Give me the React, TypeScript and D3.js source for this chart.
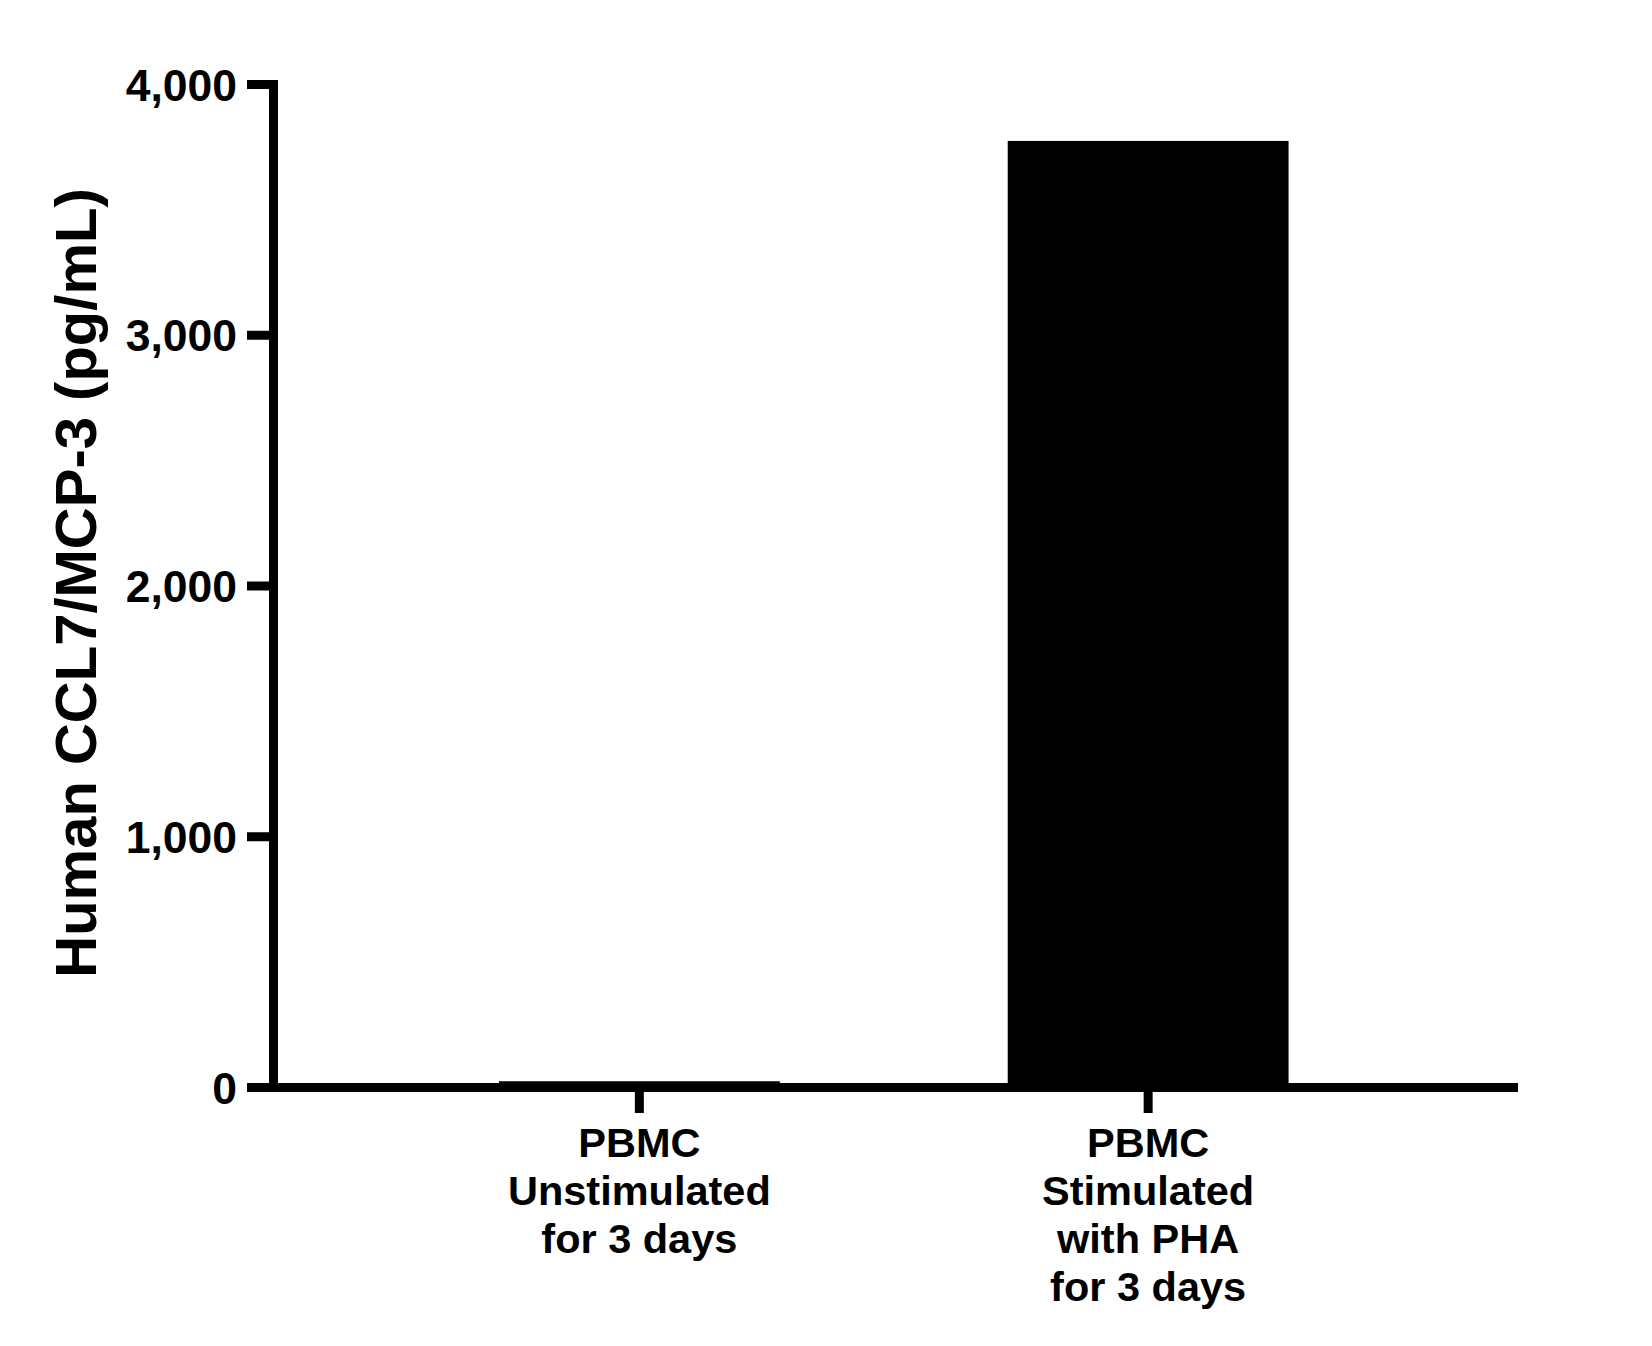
import React from "react";
import * as d3 from "d3";

const categories: string[][] = [
  ["PBMC", "Unstimulated", "for 3 days"],
  ["PBMC", "Stimulated", "with PHA", "for 3 days"],
];
const categoryKeys = ["unstim", "stim"];
const values = [25, 3775];
const yTicks = [0, 1000, 2000, 3000, 4000];
const yLabel = "Human CCL7/MCP-3 (pg/mL)";

export default function App() {
  const W = 1652;
  const H = 1346;
  const axisX = 273.5;
  const axisY = 1087.5;
  const lw = 9;
  const y = d3.scaleLinear().domain([0, 4000]).range([axisY, 84.5]);
  const x = d3
    .scaleBand<string>()
    .domain(categoryKeys)
    .range([271.5, 1516])
    .paddingInner(0.448)
    .paddingOuter(0.447);
  const fmt = d3.format(",");
  const font = "'Liberation Sans', Arial, sans-serif";

  return (
    <svg
      width={W}
      height={H}
      style={{ position: "absolute", left: 0, top: 0, background: "#fff" }}
      fontFamily={font}
      fontWeight="bold"
    >
      <rect x={0} y={0} width={W} height={H} fill="#fff" />
      {values.map((v, i) => (
        <rect
          key={i}
          x={x(categoryKeys[i])!}
          width={x.bandwidth()}
          y={y(v)}
          height={y(0) - y(v)}
          fill="#000"
        />
      ))}
      {/* y axis */}
      <line x1={axisX} x2={axisX} y1={y(4000) - lw / 2} y2={axisY + lw / 2} stroke="#000" strokeWidth={lw} />
      {yTicks.map((t) => (
        <g key={t}>
          <line x1={247} x2={axisX} y1={y(t)} y2={y(t)} stroke="#000" strokeWidth={lw} />
          <text x={237} y={y(t)} dy="0.36em" textAnchor="end" fontSize={44.5} fill="#000">
            {fmt(t)}
          </text>
        </g>
      ))}
      {/* x axis */}
      <line x1={247} x2={1518} y1={axisY} y2={axisY} stroke="#000" strokeWidth={lw} />
      {categoryKeys.map((k, i) => {
        const cx = x(k)! + x.bandwidth() / 2;
        return (
          <g key={k}>
            <line x1={cx} x2={cx} y1={axisY} y2={1113} stroke="#000" strokeWidth={lw} />
            <text textAnchor="middle" fontSize={41.5} fill="#000">
              {categories[i].map((ln, j) => (
                <tspan key={j} x={cx} y={1157 + j * 48}>
                  {ln}
                </tspan>
              ))}
            </text>
          </g>
        );
      })}
      <text
        transform={`translate(96,583) rotate(-90)`}
        textAnchor="middle"
        fontSize={58}
        fill="#000"
      >
        {yLabel}
      </text>
    </svg>
  );
}
